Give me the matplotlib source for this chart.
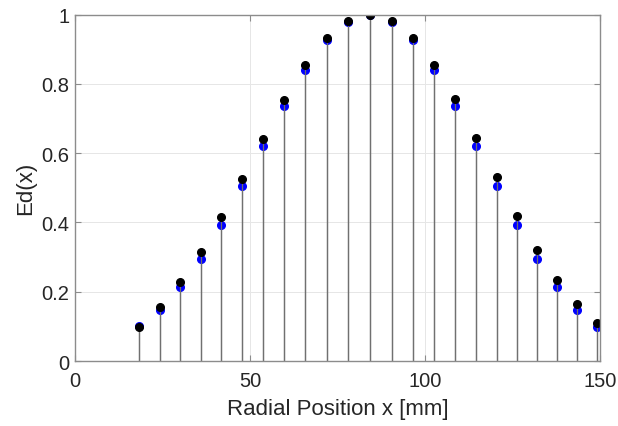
import matplotlib
matplotlib.use("Agg")
from matplotlib import pyplot as plt
import numpy as np

# radial positions [mm] of the stems
x_pos = [18.2, 24.4, 30.1, 35.9, 41.8, 47.7, 53.8, 59.7, 65.7, 71.9, 78.1, 84.3,
         90.5, 96.5, 102.6, 108.6, 114.6, 120.7, 126.4, 132.1, 137.6, 143.3, 149.1]

# black series
ed_black = [0.097, 0.155, 0.227, 0.314, 0.415, 0.526, 0.641, 0.754, 0.855, 0.932, 0.982, 1.0,
            0.982, 0.934, 0.856, 0.756, 0.645, 0.530, 0.420, 0.321, 0.235, 0.165, 0.109]

# blue series
ed_blue = [0.101, 0.148, 0.213, 0.295, 0.393, 0.504, 0.622, 0.737, 0.841, 0.928, 0.980, 0.999,
           0.980, 0.926, 0.841, 0.737, 0.622, 0.504, 0.393, 0.295, 0.213, 0.147, 0.098]

plt.rcParams['font.family'] = ['Liberation Sans', 'DejaVu Sans']

fig = plt.figure(figsize=(6.18, 4.27), dpi=100)
ax = fig.add_axes([0.1214, 0.1522, 0.8495, 0.811])

stem_col = '#707070'
for ys, mc in [(ed_blue, '#0000ff'), (ed_black, 'black')]:
    ml, sl, bl = ax.stem(x_pos, ys, basefmt=' ')
    plt.setp(sl, color=stem_col, linewidth=0.9)
    plt.setp(ml, color=mc, marker='o', markersize=5.5, markeredgecolor=mc)

ax.set_xlim(0, 150)
ax.set_ylim(0, 1)
ax.set_xticks([0, 50, 100, 150])
ax.set_yticks([0, 0.2, 0.4, 0.6, 0.8, 1])
ax.set_yticklabels(['0', '0.2', '0.4', '0.6', '0.8', '1'])
ax.grid(True, color='#e6e6e6', linewidth=0.7)
ax.set_axisbelow(True)

for s in ax.spines.values():
    s.set_color('#8c8c8c')
    s.set_linewidth(1.0)
ax.tick_params(direction='in', top=True, right=True, length=4, width=0.8,
               color='#8c8c8c', labelsize=14.5, labelcolor='#262626', pad=4)
ax.tick_params(axis='x', pad=7)

ax.set_xlabel('Radial Position x [mm]', fontsize=16, color='#262626', labelpad=6)
ax.set_ylabel('Ed(x)', fontsize=16, color='#262626', labelpad=4)

fig.savefig('out.png', dpi=100)
